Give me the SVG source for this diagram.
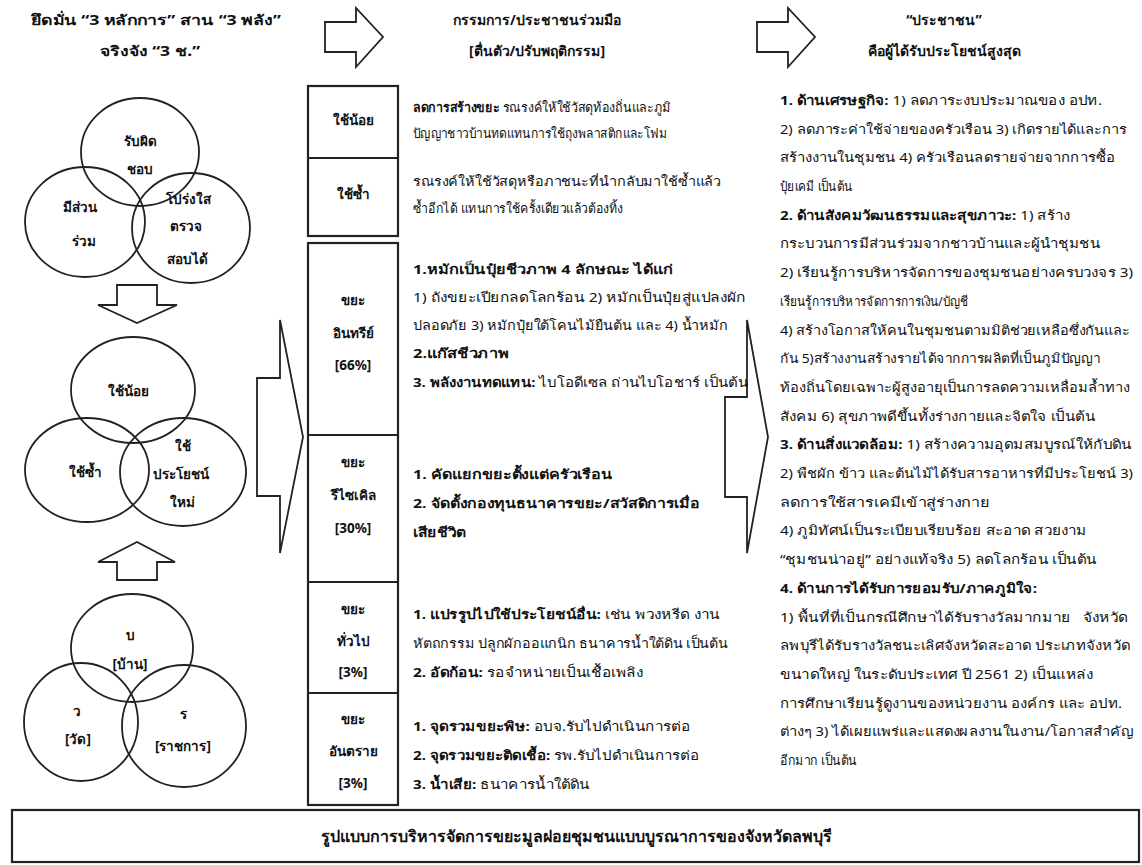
<svg xmlns="http://www.w3.org/2000/svg" width="1142" height="865" viewBox="0 0 1142 865">
<style>
text{font-family:'Noto Sans','DejaVu Sans',sans-serif;fill:#111;}
.t{font-size:13px;}
.b{font-weight:bold;}
.c{text-anchor:middle;font-size:13.5px;font-weight:bold;}
.h{text-anchor:middle;font-size:14px;font-weight:bold;}
.ln{fill:none;stroke:#222;stroke-width:1.8;}
.box{fill:#fff;stroke:#222;stroke-width:2.2;}
.arr{fill:#fff;stroke:#222;stroke-width:1.8;stroke-linejoin:miter;}
</style>
<rect width="1142" height="865" fill="#fff"/>

<g id="headers">
<text class="h" x="156" y="25" textLength="250" lengthAdjust="spacingAndGlyphs">ยึดมั่น “3 หลักการ” สาน “3 พลัง”</text>
<text class="h" x="150" y="56" textLength="100" lengthAdjust="spacingAndGlyphs">จริงจัง “3 ช.”</text>
<text class="h" x="537" y="25">กรรมการ/ประชาชนร่วมมือ</text>
<text class="h" x="537" y="56">[ตื่นตัว/ปรับพฤติกรรม]</text>
<text class="h" x="944" y="25">“ประชาชน”</text>
<text class="h" x="944" y="56">คือผู้ได้รับประโยชน์สูงสุด</text>
</g>

<g id="connectors">
<polygon class="arr" points="325,22 356,22 356,8 383,37 356,67 356,52 325,52"/>
<polygon class="arr" points="757,22 788,22 788,8 815,37 788,67 788,52 757,52"/>
<polygon class="arr" points="117,285 157,285 157,305 177,305 137,323 98,305 117,305"/>
<polygon class="arr" points="117,580 157,580 157,562 175,562 137,542 98,562 117,562"/>
<polygon class="arr" points="257,378 280,378 280,320 303,437 280,553 280,496 257,496"/>
<polygon class="arr" points="725,397 747,397 747,320 768,437 747,553 747,497 725,497"/>
</g>

<g id="venn-principles">
<ellipse class="ln" cx="140" cy="152" rx="59" ry="54"/>
<ellipse class="ln" cx="85" cy="222" rx="60" ry="55"/>
<ellipse class="ln" cx="191" cy="228" rx="59" ry="55"/>
<text class="c" x="140" y="146">รับผิด</text>
<text class="c" x="140" y="174">ชอบ</text>
<text class="c" x="80" y="212">มีส่วน</text>
<text class="c" x="84" y="246">ร่วม</text>
<text class="c" x="188" y="204">โปร่งใส</text>
<text class="c" x="186" y="231">ตรวจ</text>
<text class="c" x="187" y="264">สอบได้</text>
</g>

<g id="venn-3r">
<ellipse class="ln" cx="133" cy="390" rx="62" ry="53"/>
<ellipse class="ln" cx="87" cy="470" rx="62" ry="52"/>
<ellipse class="ln" cx="183" cy="472" rx="63" ry="54"/>
<text class="c" x="128" y="396">ใช้น้อย</text>
<text class="c" x="85" y="477">ใช้ซ้ำ</text>
<text class="c" x="183" y="451">ใช้</text>
<text class="c" x="181" y="479">ประโยชน์</text>
<text class="c" x="182" y="507">ใหม่</text>
</g>

<g id="venn-bwr">
<ellipse class="ln" cx="132" cy="648" rx="61" ry="54"/>
<ellipse class="ln" cx="81" cy="722" rx="57" ry="59"/>
<ellipse class="ln" cx="184" cy="726" rx="62" ry="61"/>
<text class="c" x="130" y="640">บ</text>
<text class="c" x="130" y="669">[บ้าน]</text>
<text class="c" x="77" y="716">ว</text>
<text class="c" x="78" y="744">[วัด]</text>
<text class="c" x="183" y="719">ร</text>
<text class="c" x="183" y="751">[ราชการ]</text>
</g>

<g id="table-3r">
<rect class="box" x="308" y="86" width="90" height="150"/>
<line class="box" x1="308" y1="158" x2="398" y2="158"/>
<text class="c" x="353" y="125">ใช้น้อย</text>
<text class="c" x="353" y="199">ใช้ซ้ำ</text>
<text class="t" x="413" y="112" textLength="258" lengthAdjust="spacingAndGlyphs"><tspan class="b">ลดการสร้างขยะ</tspan> รณรงค์ให้ใช้วัสดุท้องถิ่นและภูมิ</text>
<text class="t" x="413" y="138" textLength="254" lengthAdjust="spacingAndGlyphs">ปัญญาชาวบ้านทดแทนการใช้ถุงพลาสติกและโฟม</text>
<text class="t" x="413" y="186" textLength="308" lengthAdjust="spacingAndGlyphs">รณรงค์ให้ใช้วัสดุหรือภาชนะที่นำกลับมาใช้ซ้ำแล้ว</text>
<text class="t" x="413" y="213" textLength="210" lengthAdjust="spacingAndGlyphs">ซ้ำอีกได้ แทนการใช้ครั้งเดียวแล้วต้องทิ้ง</text>
</g>

<g id="table-waste">
<rect class="box" x="308" y="243" width="90" height="562"/>
<line class="box" x1="308" y1="435" x2="398" y2="435"/>
<line class="box" x1="308" y1="582" x2="398" y2="582"/>
<line class="box" x1="308" y1="693" x2="398" y2="693"/>
<text class="c" x="353" y="305">ขยะ</text>
<text class="c" x="353" y="338">อินทรีย์</text>
<text class="c" x="353" y="370">[66%]</text>
<text class="c" x="353" y="467">ขยะ</text>
<text class="c" x="353" y="500">รีไซเคิล</text>
<text class="c" x="353" y="533">[30%]</text>
<text class="c" x="353" y="614">ขยะ</text>
<text class="c" x="353" y="646">ทั่วไป</text>
<text class="c" x="353" y="677">[3%]</text>
<text class="c" x="353" y="724">ขยะ</text>
<text class="c" x="353" y="756">อันตราย</text>
<text class="c" x="353" y="788">[3%]</text>

<text class="t b" x="413" y="274" textLength="260" lengthAdjust="spacingAndGlyphs">1.หมักเป็นปุ๋ยชีวภาพ 4 ลักษณะ ได้แก่</text>
<text class="t" x="413" y="302" textLength="333" lengthAdjust="spacingAndGlyphs">1) ถังขยะเปียกลดโลกร้อน 2) หมักเป็นปุ๋ยสู่แปลงผัก</text>
<text class="t" x="413" y="330" textLength="315" lengthAdjust="spacingAndGlyphs">ปลอดภัย 3) หมักปุ๋ยใต้โคนไม้ยืนต้น และ 4) น้ำหมัก</text>
<text class="t b" x="413" y="358" textLength="96" lengthAdjust="spacingAndGlyphs">2.แก๊สชีวภาพ</text>
<text class="t" x="413" y="387" textLength="335" lengthAdjust="spacingAndGlyphs"><tspan class="b">3. พลังงานทดแทน:</tspan> ไบโอดีเซล ถ่านไบโอชาร์ เป็นต้น</text>

<text class="t b" x="413" y="479" textLength="199" lengthAdjust="spacingAndGlyphs">1. คัดแยกขยะตั้งแต่ครัวเรือน</text>
<text class="t b" x="413" y="508" textLength="287" lengthAdjust="spacingAndGlyphs">2. จัดตั้งกองทุนธนาคารขยะ/สวัสดิการเมื่อ</text>
<text class="t b" x="413" y="537" textLength="53" lengthAdjust="spacingAndGlyphs">เสียชีวิต</text>

<text class="t" x="413" y="619" textLength="307" lengthAdjust="spacingAndGlyphs"><tspan class="b">1. แปรรูปไปใช้ประโยชน์อื่น:</tspan> เช่น พวงหรีด งาน</text>
<text class="t" x="413" y="648" textLength="315" lengthAdjust="spacingAndGlyphs">หัตถกรรม ปลูกผักออแกนิก ธนาคารน้ำใต้ดิน เป็นต้น</text>
<text class="t" x="413" y="677" textLength="230" lengthAdjust="spacingAndGlyphs"><tspan class="b">2. อัดก้อน:</tspan> รอจำหน่ายเป็นเชื้อเพลิง</text>

<text class="t" x="413" y="731" textLength="277" lengthAdjust="spacingAndGlyphs"><tspan class="b">1. จุดรวมขยะพิษ:</tspan> อบจ.รับไปดำเนินการต่อ</text>
<text class="t" x="413" y="760" textLength="286" lengthAdjust="spacingAndGlyphs"><tspan class="b">2. จุดรวมขยะติดเชื้อ:</tspan> รพ.รับไปดำเนินการต่อ</text>
<text class="t" x="413" y="789" textLength="177" lengthAdjust="spacingAndGlyphs"><tspan class="b">3. น้ำเสีย:</tspan> ธนาคารน้ำใต้ดิน</text>
</g>

<g id="benefits">
<text class="t" x="780" y="105" textLength="322" lengthAdjust="spacingAndGlyphs"><tspan class="b">1. ด้านเศรษฐกิจ:</tspan> 1) ลดภาระงบประมาณของ อปท.</text>
<text class="t" x="780" y="134" textLength="347" lengthAdjust="spacingAndGlyphs">2) ลดภาระค่าใช้จ่ายของครัวเรือน 3) เกิดรายได้และการ</text>
<text class="t" x="780" y="162" textLength="335" lengthAdjust="spacingAndGlyphs">สร้างงานในชุมชน 4) ครัวเรือนลดรายจ่ายจากการซื้อ</text>
<text class="t" x="780" y="191" textLength="72" lengthAdjust="spacingAndGlyphs">ปุ๋ยเคมี เป็นต้น</text>
<text class="t" x="780" y="220" textLength="290" lengthAdjust="spacingAndGlyphs"><tspan class="b">2. ด้านสังคมวัฒนธรรมและสุขภาวะ:</tspan> 1) สร้าง</text>
<text class="t" x="780" y="248" textLength="320" lengthAdjust="spacingAndGlyphs">กระบวนการมีส่วนร่วมจากชาวบ้านและผู้นำชุมชน</text>
<text class="t" x="780" y="277" textLength="353" lengthAdjust="spacingAndGlyphs">2) เรียนรู้การบริหารจัดการของชุมชนอย่างครบวงจร 3)</text>
<text class="t" x="780" y="306" textLength="188" lengthAdjust="spacingAndGlyphs">เรียนรู้การบริหารจัดการการเงิน/บัญชี</text>
<text class="t" x="780" y="335" textLength="350" lengthAdjust="spacingAndGlyphs">4) สร้างโอกาสให้คนในชุมชนตามมิติช่วยเหลือซึ่งกันและ</text>
<text class="t" x="780" y="363" textLength="320" lengthAdjust="spacingAndGlyphs">กัน 5)สร้างงานสร้างรายได้จากการผลิตที่เป็นภูมิปัญญา</text>
<text class="t" x="780" y="392" textLength="350" lengthAdjust="spacingAndGlyphs">ท้องถิ่นโดยเฉพาะผู้สูงอายุเป็นการลดความเหลื่อมล้ำทาง</text>
<text class="t" x="780" y="421" textLength="315" lengthAdjust="spacingAndGlyphs">สังคม 6) สุขภาพดีขึ้นทั้งร่างกายและจิตใจ เป็นต้น</text>
<text class="t" x="780" y="449" textLength="352" lengthAdjust="spacingAndGlyphs"><tspan class="b">3. ด้านสิ่งแวดล้อม:</tspan> 1) สร้างความอุดมสมบูรณ์ให้กับดิน</text>
<text class="t" x="780" y="478" textLength="353" lengthAdjust="spacingAndGlyphs">2) พืชผัก ข้าว และต้นไม้ได้รับสารอาหารที่มีประโยชน์ 3)</text>
<text class="t" x="780" y="507" textLength="210" lengthAdjust="spacingAndGlyphs">ลดการใช้สารเคมีเข้าสู่ร่างกาย</text>
<text class="t" x="780" y="535" textLength="307" lengthAdjust="spacingAndGlyphs">4) ภูมิทัศน์เป็นระเบียบเรียบร้อย สะอาด สวยงาม</text>
<text class="t" x="780" y="564" textLength="317" lengthAdjust="spacingAndGlyphs">“ชุมชนน่าอยู่” อย่างแท้จริง 5) ลดโลกร้อน เป็นต้น</text>
<text class="t b" x="780" y="593" textLength="257" lengthAdjust="spacingAndGlyphs">4. ด้านการได้รับการยอมรับ/ภาคภูมิใจ:</text>
<text class="t" x="780" y="622" textLength="348" lengthAdjust="spacingAndGlyphs" style="white-space:pre">1) พื้นที่ที่เป็นกรณีศึกษาได้รับรางวัลมากมาย   จังหวัด</text>
<text class="t" x="780" y="650" textLength="350" lengthAdjust="spacingAndGlyphs">ลพบุรีได้รับรางวัลชนะเลิศจังหวัดสะอาด ประเภทจังหวัด</text>
<text class="t" x="780" y="679" textLength="313" lengthAdjust="spacingAndGlyphs">ขนาดใหญ่ ในระดับประเทศ ปี 2561 2) เป็นแหล่ง</text>
<text class="t" x="780" y="708" textLength="342" lengthAdjust="spacingAndGlyphs">การศึกษาเรียนรู้ดูงานของหน่วยงาน องค์กร และ อปท.</text>
<text class="t" x="780" y="736" textLength="353" lengthAdjust="spacingAndGlyphs">ต่างๆ 3) ได้เผยแพร่และแสดงผลงานในงาน/โอกาสสำคัญ</text>
<text class="t" x="780" y="765" textLength="77" lengthAdjust="spacingAndGlyphs">อีกมาก เป็นต้น</text>
</g>

<g id="title-box">
<rect class="box" x="12" y="810" width="1127" height="52"/>
<text class="h" x="576" y="842" style="font-size:16px">รูปแบบการบริหารจัดการขยะมูลฝอยชุมชนแบบบูรณาการของจังหวัดลพบุรี</text>
</g>
</svg>
